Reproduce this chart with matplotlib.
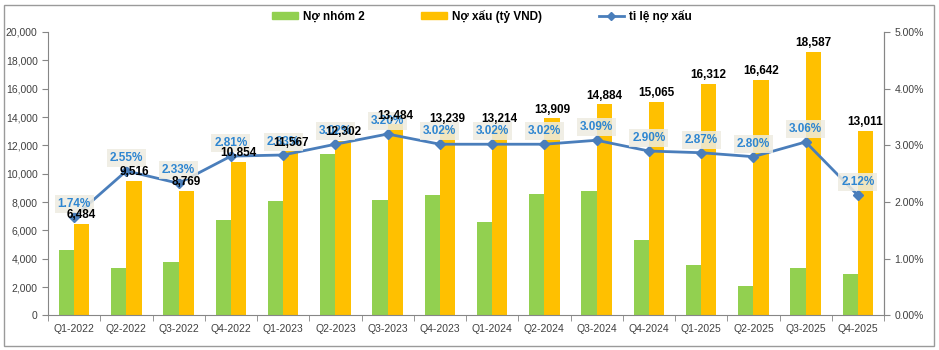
import matplotlib
matplotlib.use("Agg")
import matplotlib.pyplot as plt
import matplotlib.patches as mpatches
from matplotlib.lines import Line2D
from matplotlib.ticker import FuncFormatter, MultipleLocator, FixedLocator
import numpy as np

plt.rcParams["font.family"] = ["Liberation Sans", "DejaVu Sans"]

# ── Data ──────────────────────────────────────────────────────────────────────
quarters = ["Q1-2022", "Q2-2022", "Q3-2022", "Q4-2022",
            "Q1-2023", "Q2-2023", "Q3-2023", "Q4-2023",
            "Q1-2024", "Q2-2024", "Q3-2024", "Q4-2024",
            "Q1-2025", "Q2-2025", "Q3-2025", "Q4-2025"]
no_nhom2 = [4640, 3320, 3790, 6710, 8060, 11390, 8130, 8500,
            6570, 8570, 8810, 5320, 3530, 2070, 3320, 2920]
no_xau = [6484, 9516, 8769, 10854, 11567, 12302, 13484, 13239,
          13214, 13909, 14884, 15065, 16312, 16642, 18587, 13011]
ty_le = [1.74, 2.55, 2.33, 2.81, 2.83, 3.02, 3.20, 3.02,
         3.02, 3.02, 3.09, 2.90, 2.87, 2.80, 3.06, 2.12]

green = "#92D050"
yellow = "#FFC000"
line_c = "#4A7EBB"
pct_c = "#2E86D1"
axis_c = "#868686"
W, H = 939, 350

# ── Plot ──────────────────────────────────────────────────────────────────────
fig = plt.figure(figsize=(W / 100, H / 100), dpi=100)
fig.patch.set_facecolor("white")
fig.add_artist(mpatches.Rectangle((4 / W, 4 / H), 930 / W, 341 / H,
                                  transform=fig.transFigure, fill=False,
                                  edgecolor="#9A9A9A", lw=1.0))

ax = fig.add_axes([48 / W, (H - 315.4) / H, (884 - 48) / W, (315.4 - 32) / H])
ax2 = ax.twinx()

x = np.arange(len(quarters))
bw = 0.29
ax.bar(x - bw / 2, no_nhom2, width=bw, color=green, zorder=2)
ax.bar(x + bw / 2, no_xau, width=bw, color=yellow, zorder=2)

ax2.plot(x, [v / 100 for v in ty_le], color=line_c, lw=2, marker="D",
         markersize=5, zorder=4)
for xi, v in zip(x, ty_le):
    ax2.annotate(f"{v:.2f}%", (xi, v / 100), textcoords="offset points",
                 xytext=(0, 5), ha="center", va="bottom", fontsize=8.5,
                 fontweight="bold", color=pct_c, zorder=6,
                 bbox=dict(boxstyle="square,pad=0.25", fc="#EEECE1",
                           ec="none", alpha=0.85))

# bar value labels drawn on ax2 so they sit above the % boxes
for xi, v in zip(x, no_xau):
    ax2.annotate(f"{v:,}", (xi + bw / 2, v), xycoords=ax.transData,
                 textcoords="offset points", xytext=(0, 2), ha="center",
                 va="bottom", fontsize=8.5, fontweight="bold", color="black",
                 zorder=7)

# ── Axes ──────────────────────────────────────────────────────────────────────
ax.set_xlim(-0.5, len(quarters) - 0.5)
ax.set_ylim(0, 20000)
ax2.set_ylim(0, 0.05)

ax.yaxis.set_major_locator(MultipleLocator(2000))
ax.yaxis.set_major_formatter(FuncFormatter(lambda v, p: f"{int(v):,}"))
ax2.yaxis.set_major_locator(MultipleLocator(0.01))
ax2.yaxis.set_major_formatter(FuncFormatter(lambda v, p: f"{v * 100:.2f}%"))

ax.set_xticks(x)
ax.set_xticklabels(quarters)
ax.xaxis.set_minor_locator(FixedLocator(np.arange(-0.5, len(quarters), 1)))
ax.tick_params(axis="x", which="major", length=0, pad=6)
ax.tick_params(axis="x", which="minor", length=4, color=axis_c)

for a in (ax, ax2):
    for s in a.spines.values():
        s.set_color(axis_c)
    a.spines["top"].set_visible(False)
    a.tick_params(labelsize=7.5, colors="#404040")
    a.tick_params(axis="y", length=4, color=axis_c)
ax2.spines["left"].set_visible(False)
ax2.spines["bottom"].set_visible(False)

# ── Legend ────────────────────────────────────────────────────────────────────
handles = [
    mpatches.Patch(color=green, label="Nợ nhóm 2"),
    mpatches.Patch(color=yellow, label="Nợ xấu (tỷ VND)"),
    Line2D([0], [0], color=line_c, lw=2, marker="D", markersize=4,
           label="tỉ lệ nợ xấu"),
]
fig.legend(handles=handles, loc="center", bbox_to_anchor=(482 / W, 1 - 16 / H),
           ncol=3, frameon=False, handlelength=2.2, handleheight=0.5,
           handletextpad=0.4, columnspacing=4.8,
           prop={"weight": "bold", "size": 8.5})

fig.savefig("out.png", dpi=100)
